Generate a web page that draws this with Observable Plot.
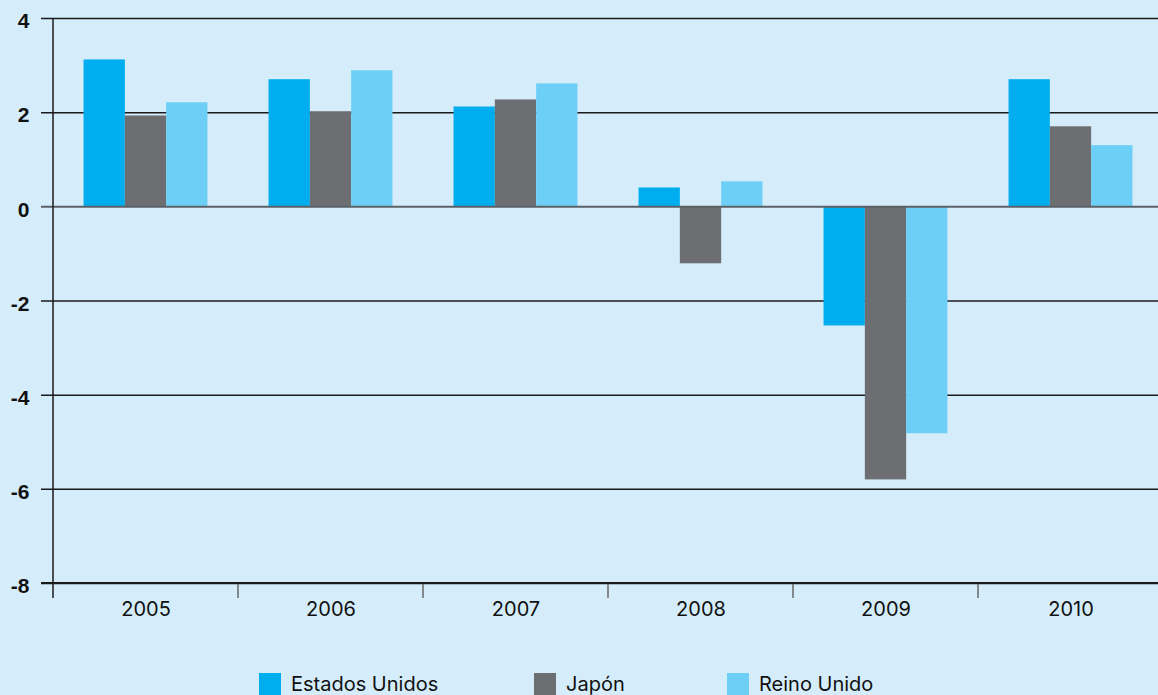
<!DOCTYPE html>
<html>
<head>
<meta charset="utf-8">
<script src="https://cdn.jsdelivr.net/npm/d3@7"></script>
<script src="https://cdn.jsdelivr.net/npm/@observablehq/plot@0.6"></script>
<style>
  html, body { margin: 0; padding: 0; background: #d5edfa; overflow: hidden; }
  #wrap { position: relative; width: 1158px; height: 695px; background: #d5edfa; font-family: Inter, "Liberation Sans", Arial, sans-serif; }
  #legend { position: absolute; left: 0; top: 673px; width: 1158px; height: 22px; }
  .item { position: absolute; top: 0; display: flex; align-items: center; font-size: 20px; color: #111; height: 22px; }
  .sw { width: 22px; height: 22px; margin-right: 10px; }
</style>
</head>
<body>
<div id="wrap"><div id="chart"></div><div id="legend"></div></div>
<script>
const years = ["2005", "2006", "2007", "2008", "2009", "2010"];
const countries = ["Estados Unidos", "Japón", "Reino Unido"];
const estadosUnidos = [3.12, 2.70, 2.12, 0.40, -2.53, 2.70];
const japon = [1.93, 2.02, 2.27, -1.21, -5.80, 1.70];
const reinoUnido = [2.21, 2.89, 2.61, 0.53, -4.82, 1.30];
const colors = ["#00aeef", "#6d6e71", "#6dcff6"];
const yTicks = [-8, -6, -4, -2, 0, 2, 4];

const series = [estadosUnidos, japon, reinoUnido];
const rows = [];
countries.forEach((c, ci) => years.forEach((y, yi) => rows.push({year: y, country: c, value: series[ci][yi]})));

const W = 1158, H = 640;
const mL = 53, mR = -5, mT = 18, mB = 57;
const band = (W - mL - mR) / years.length;
const barW = 41.3;
const inset = (band - barW) / 2;

const plot = Plot.plot({
  width: W,
  height: H,
  marginLeft: mL,
  marginRight: mR,
  marginTop: mT,
  marginBottom: mB,
  style: {background: "transparent", fontFamily: "Inter, Liberation Sans, Arial, sans-serif", overflow: "visible"},
  x: {domain: years, padding: 0, label: null},
  y: {domain: [-8, 4], label: null},
  marks: [
    Plot.ruleY(yTicks.filter(d => d !== 0), {stroke: "#1a1a1a", strokeWidth: 1.5, insetLeft: -12, insetRight: 5}),
    ...countries.map((c, ci) => Plot.barY(rows.filter(r => r.country === c), {
      x: "year", y: "value", fill: colors[ci], insetLeft: inset, insetRight: inset, dx: (ci - 1) * barW
    })),
    Plot.ruleY([0], {stroke: "#5b6066", strokeWidth: 2, insetLeft: -12, insetRight: 5}),
    Plot.axisY({ticks: yTicks, tickSize: 0, tickPadding: 24, tickFormat: d => String(d), fontSize: 21, fontWeight: "bold", fontFamily: "Liberation Sans, Arial, sans-serif", fill: "#111", dy: 3, label: null}),
    Plot.axisX({tickSize: 0, tickPadding: 18, fontSize: 20, fill: "#111", label: null})
  ]
});

// decorative axis line and group separators
const xs = plot.scale("x");
const svg = d3.select(plot.tagName.toLowerCase() === "svg" ? plot : plot.querySelector("svg"));
const yBottom = H - mB;
svg.append("line").attr("x1", mL).attr("x2", mL).attr("y1", mT).attr("y2", yBottom + 15)
  .attr("stroke", "#1a1a1a").attr("stroke-width", 1.5);
years.slice(1).forEach(y => {
  const x = xs.apply(y);
  svg.append("line").attr("x1", x).attr("x2", x).attr("y1", yBottom).attr("y2", yBottom + 15)
    .attr("stroke", "#666").attr("stroke-width", 1.5);
});
svg.append("line").attr("x1", mL - 12).attr("x2", W).attr("y1", yBottom).attr("y2", yBottom)
  .attr("stroke", "#1a1a1a").attr("stroke-width", 2);

document.getElementById("chart").appendChild(plot);

const legendPos = [259, 534, 727];
const legend = document.getElementById("legend");
countries.forEach((c, i) => {
  const it = document.createElement("div");
  it.className = "item";
  it.style.left = legendPos[i] + "px";
  const sw = document.createElement("div");
  sw.className = "sw";
  sw.style.background = colors[i];
  it.appendChild(sw);
  const t = document.createElement("span");
  t.textContent = c;
  it.appendChild(t);
  legend.appendChild(it);
});
</script>
</body>
</html>
